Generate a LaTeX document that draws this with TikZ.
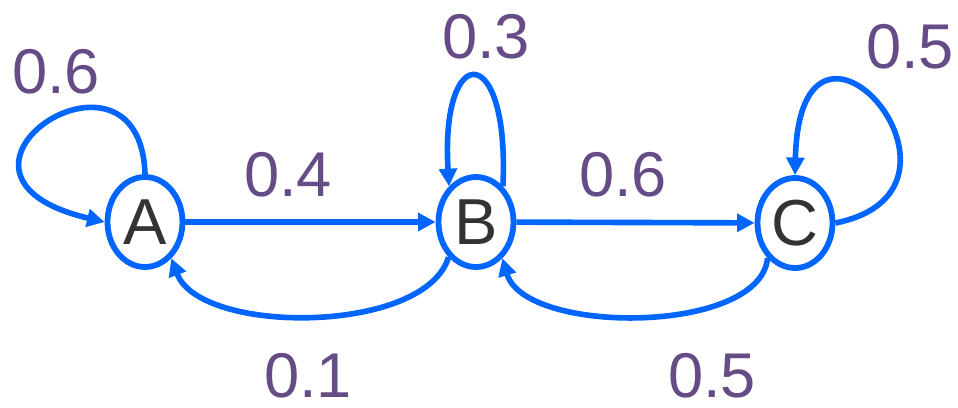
\documentclass[tikz,border=0pt]{standalone}
\usepackage{fontspec}
\setmainfont{Liberation Sans}
\usepackage{tikz}
\usetikzlibrary{shapes.geometric}
\usetikzlibrary{arrows.meta}
\definecolor{edgeblue}{RGB}{0,102,255}
\definecolor{probpurple}{RGB}{102,76,134}
\definecolor{statetext}{RGB}{51,51,51}

\begin{document}
\begin{tikzpicture}[x=0.02cm, y=-0.02cm,
    state/.style={draw=edgeblue, line width=3.3pt, ellipse, fill=white,
      minimum width=1.5cm, minimum height=1.8cm, inner sep=0pt,
      text=statetext, font=\fontsize{37}{40}\selectfont},
    trans/.style={draw=edgeblue, line width=3.2pt,
      -{Triangle[length=10pt, width=10pt]}},
    prob/.style={text=probpurple, inner sep=0pt,
      font=\fontsize{36}{40}\selectfont}]

  \useasboundingbox (0,0) rectangle (958,407);

  \node[state] (A) at (145,222) {A};
  \node[state] (B) at (476,222) {B};
  \node[state] (C) at (795,223) {C};

  % forward edges
  \draw[trans] (A) -- (B);
  \draw[trans] (B) -- (C);

  % backward edges
  \draw[trans] (B.232) .. controls (425,335) and (200,335) .. (A.-54);
  \draw[trans] (C.232) .. controls (760,335) and (525,335) .. (B.-54);

  % self loops
  \draw[trans] (A.north) .. controls (140,20) and (-95,175) .. (A.west);
  \draw[trans] (B.53) .. controls (510,40) and (440,40) .. (B.127);
  \draw[trans] (C.east) .. controls (1000,190) and (800,-40) .. (C.north);

  \node[prob] (pAA) at (56,72) {0.6};
  \node[prob] (pAB) at (288,175) {0.4};
  \node[prob] (pBB) at (486,37) {0.3};
  \node[prob] (pBC) at (623,175) {0.6};
  \node[prob] (pCC) at (910,47) {0.5};
  \node[prob] (pBA) at (308,376) {0.1};
  \node[prob] (pCB) at (712,376) {0.5};

\end{tikzpicture}
\end{document}
